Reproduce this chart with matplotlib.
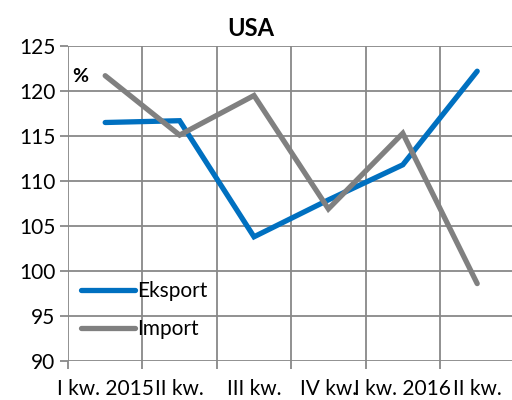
import matplotlib
matplotlib.use("Agg")
import matplotlib.pyplot as plt
from matplotlib.ticker import FixedLocator, NullFormatter

categories = ["I kw. 2015", "II kw.", "III kw.", "IV kw.", "I kw. 2016", "II kw."]
eksport = [116.5, 116.7, 103.8, 107.9, 111.8, 122.2]
importv = [121.7, 115.1, 119.5, 106.9, 115.3, 98.6]
yticks = [90, 95, 100, 105, 110, 115, 120, 125]

plt.rcParams['font.family'] = ['Lato', 'DejaVu Sans']

fig = plt.figure(figsize=(5.12, 4.0), dpi=100)
ax = fig.add_axes([68/512, 1-361/400, 446.4/512, 315/400])

x = list(range(len(categories)))
ax.plot(x, eksport, color='#0070C0', lw=3.8, solid_capstyle='round', solid_joinstyle='miter', label='Eksport', zorder=3)
ax.plot(x, importv, color='#808080', lw=3.8, solid_capstyle='round', solid_joinstyle='miter', label='Import', zorder=3)

ax.set_xlim(-0.5, len(categories) - 0.5)
ax.set_ylim(90, 125)
ax.set_yticks(yticks)
ax.set_yticklabels([str(v) for v in yticks], fontsize=15)
ax.set_xticks(x)
ax.set_xticklabels(categories, fontsize=15)
ax.tick_params(axis='x', which='major', length=0, pad=13)
ax.xaxis.set_minor_locator(FixedLocator([i - 0.5 for i in range(len(categories) + 1)]))
ax.xaxis.set_minor_formatter(NullFormatter())
ax.tick_params(axis='x', which='minor', length=6, width=1.3, color='#888888')
ax.tick_params(axis='y', length=6, width=1.3, color='#888888', pad=3)

ax.grid(True, which='major', axis='y', color='#888888', lw=1.3)
ax.grid(True, which='minor', axis='x', color='#888888', lw=1.3)
ax.set_axisbelow(True)
for s in ax.spines.values():
    s.set_visible(False)

ax.text(-0.44, 121.6, '%', fontsize=14, fontweight='bold', ha='left', va='center')
fig.text(251/512, 1-29/400, 'USA', fontsize=17, fontweight='bold', ha='center', va='center')

leg = ax.legend(loc='lower left', bbox_to_anchor=(0.0, 0.03), frameon=False, fontsize=15,
                handlelength=2.6, handletextpad=0.1, labelspacing=0.85, borderaxespad=0.2)

fig.savefig('out.png', dpi=100)
